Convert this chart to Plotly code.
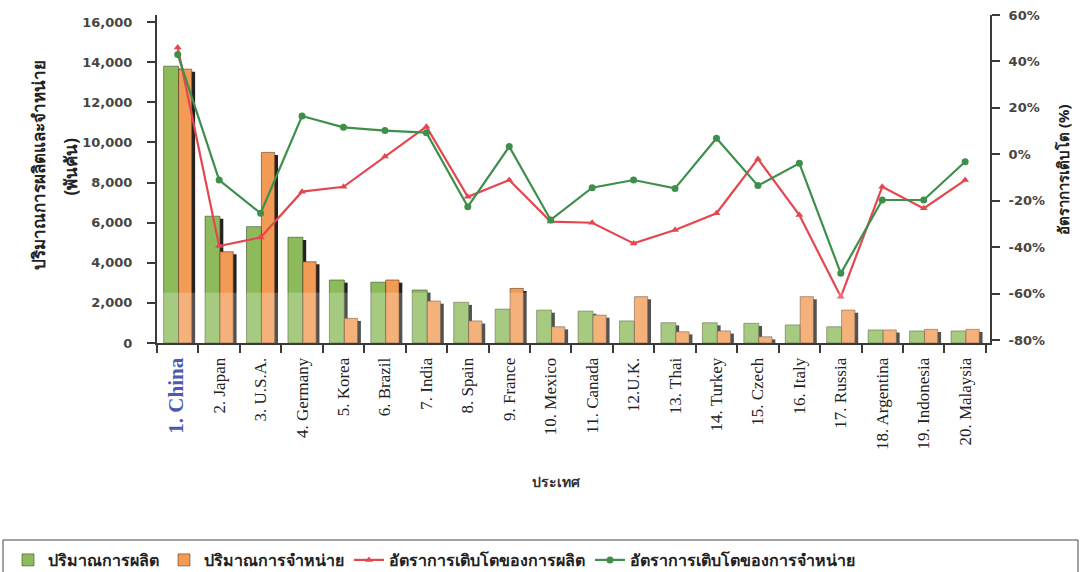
import plotly.graph_objects as go

# Top-20 vehicle producing countries: volumes (thousand units) and growth rates (%)
countries = ["1. China", "2. Japan", "3. U.S.A.", "4. Germany", "5. Korea",
             "6. Brazil", "7. India", "8. Spain", "9. France", "10. Mexico",
             "11. Canada", "12.U.K.", "13. Thai", "14. Turkey", "15. Czech",
             "16. Italy", "17. Russia", "18. Argentina", "19. Indonesia", "20. Malaysia"]
production = [13800, 6320, 5800, 5270, 3140, 3030, 2640, 2030, 1690, 1640,
              1590, 1100, 1010, 1010, 980, 900, 810, 650, 600, 600]
sales = [13650, 4550, 9500, 4050, 1230, 3140, 2090, 1100, 2720, 810,
         1390, 2310, 560, 600, 310, 2310, 1640, 650, 680, 680]
production_growth = [46, -39.5, -35.8, -16.1, -14, -1, 11.9, -18.3, -11.1, -29,
                     -29.5, -38.4, -32.6, -25.4, -2, -26.2, -61.4, -14, -23.3, -11.1]
sales_growth = [43, -11.1, -25.4, 16.5, 11.6, 10.2, 9.3, -22.6, 3.3, -28.3,
                -14.4, -11.1, -14.7, 6.9, -13.5, -3.9, -51.3, -19.7, -19.7, -3.2]

left_ticks = [0, 2000, 4000, 6000, 8000, 10000, 12000, 14000, 16000]
right_ticks = [-80, -60, -40, -20, 0, 20, 40, 60]

GREEN_BAR = "#8dbb5c"
ORANGE_BAR = "#f29b55"
SHADOW = "#222222"
RED_LINE = "#e4474f"
GREEN_LINE = "#3f8f4c"
AXIS = "#3a3a3a"
THAI_FONT = "Noto Sans, DejaVu Sans, sans-serif"

tick_text = ['<span style="color:#4b5bb0;font-size:21px"><b>1. China</b></span>'] + countries[1:]

# drop shadow sits a few pixels right of and below each bar
shadow_drop = 130
prod_shadow = [max(v - shadow_drop, 0) for v in production]
sales_shadow = [max(v - shadow_drop, 0) for v in sales]

fig = go.Figure()
fig.add_trace(go.Bar(x=countries, y=prod_shadow, offset=-0.26, width=0.36,
                     marker=dict(color=SHADOW, line=dict(width=0)),
                     showlegend=False, hoverinfo="skip"))
fig.add_trace(go.Bar(x=countries, y=production, offset=-0.34, width=0.36,
                     name="ปริมาณการผลิต",
                     marker=dict(color=GREEN_BAR, line=dict(color="#3c4a2a", width=0.6))))
fig.add_trace(go.Bar(x=countries, y=sales_shadow, offset=0.10, width=0.32,
                     marker=dict(color=SHADOW, line=dict(width=0)),
                     showlegend=False, hoverinfo="skip"))
fig.add_trace(go.Bar(x=countries, y=sales, offset=0.02, width=0.32,
                     name="ปริมาณการจำหน่าย",
                     marker=dict(color=ORANGE_BAR, line=dict(color="#5a3a20", width=0.6))))
fig.add_trace(go.Scatter(x=countries, y=production_growth, yaxis="y2",
                         mode="lines+markers", name="อัตราการเติบโตของการผลิต",
                         line=dict(color=RED_LINE, width=2.2),
                         marker=dict(symbol="triangle-up", size=7, color=RED_LINE)))
fig.add_trace(go.Scatter(x=countries, y=sales_growth, yaxis="y2",
                         mode="lines+markers", name="อัตราการเติบโตของการจำหน่าย",
                         line=dict(color=GREEN_LINE, width=2.2),
                         marker=dict(symbol="circle", size=7, color=GREEN_LINE)))

axis_font = dict(family="DejaVu Sans, Verdana, sans-serif", size=13,
                 color="#4a4540", weight="bold")

fig.update_layout(
    width=1090, height=572,
    margin=dict(l=157, r=100, t=15, b=229, autoexpand=False),
    paper_bgcolor="white", plot_bgcolor="white",
    barmode="overlay",
    showlegend=True,
    legend=dict(orientation="h", xref="paper", yref="paper",
                x=(8 - 157) / 833, y=(343 - 543) / 328,
                xanchor="left", yanchor="top",
                font=dict(family=THAI_FONT, size=16, color="#222", weight="bold"),
                bgcolor="rgba(0,0,0,0)", borderwidth=0,
                traceorder="normal", itemwidth=30),
    xaxis=dict(type="category", range=[-0.5, 19.6], automargin=False,
               tickmode="array", tickvals=countries, ticktext=tick_text,
               tickangle=-90, tickson="boundaries",
               ticks="outside", ticklen=8, tickcolor=AXIS, tickwidth=1.5,
               ticklabelstandoff=6,
               showline=True, linecolor=AXIS, linewidth=2,
               showgrid=False, zeroline=False,
               tickfont=dict(family="Liberation Serif, Times New Roman, serif",
                             size=17, color="#222")),
    yaxis=dict(range=[0, 16350], tickvals=left_ticks, tickformat=",", automargin=False,
               ticks="outside", ticklen=8, tickcolor=AXIS, tickwidth=1.5,
               ticklabelstandoff=12,
               showline=True, linecolor=AXIS, linewidth=2,
               showgrid=False, zeroline=False,
               tickfont=axis_font),
    yaxis2=dict(range=[-81.3, 60], overlaying="y", side="right", automargin=False,
                tickvals=right_ticks, ticktext=[f"{v}%" for v in right_ticks],
                ticks="outside", ticklen=8, tickcolor=AXIS, tickwidth=1.5,
                ticklabelstandoff=6,
                showline=True, linecolor=AXIS, linewidth=2,
                showgrid=False, zeroline=False,
                tickfont=axis_font),
)

# pale band over the lower part of the plot
fig.add_shape(type="rect", xref="paper", yref="y",
              x0=0, x1=1, y0=0, y1=2500, layer="above",
              line=dict(width=0), fillcolor="rgba(255,255,255,0.22)")

# legend frame running along the bottom edge
fig.add_shape(type="rect", xref="paper", yref="paper",
              x0=(3 - 157) / 833, x1=(1078 - 157) / 833,
              y0=-0.72, y1=(343 - 540) / 328,
              line=dict(color="#444", width=1), fillcolor="rgba(0,0,0,0)")

title_font = dict(family=THAI_FONT, size=17, color="#222", weight="bold")
fig.add_annotation(text="ปริมาณการผลิตและจำหน่าย",
                   xref="paper", yref="paper", x=(24 - 157) / 833, y=(343 - 165) / 328,
                   textangle=-90, showarrow=False, font=title_font)
fig.add_annotation(text="(พันคัน)",
                   xref="paper", yref="paper", x=(56 - 157) / 833, y=(343 - 167) / 328,
                   textangle=-90, showarrow=False, font=title_font)
fig.add_annotation(text="อัตราการเติบโต (%)",
                   xref="paper", yref="paper", x=(1075 - 157) / 833, y=(343 - 170) / 328,
                   textangle=-90, showarrow=False,
                   font=dict(family=THAI_FONT, size=15, color="#222", weight="bold"))
fig.add_annotation(text="ประเทศ",
                   xref="paper", yref="paper", x=(556 - 157) / 833, y=(343 - 493) / 328,
                   showarrow=False, font=dict(family=THAI_FONT, size=14, color="#333", weight="bold"))

fig.write_html("out.html")
